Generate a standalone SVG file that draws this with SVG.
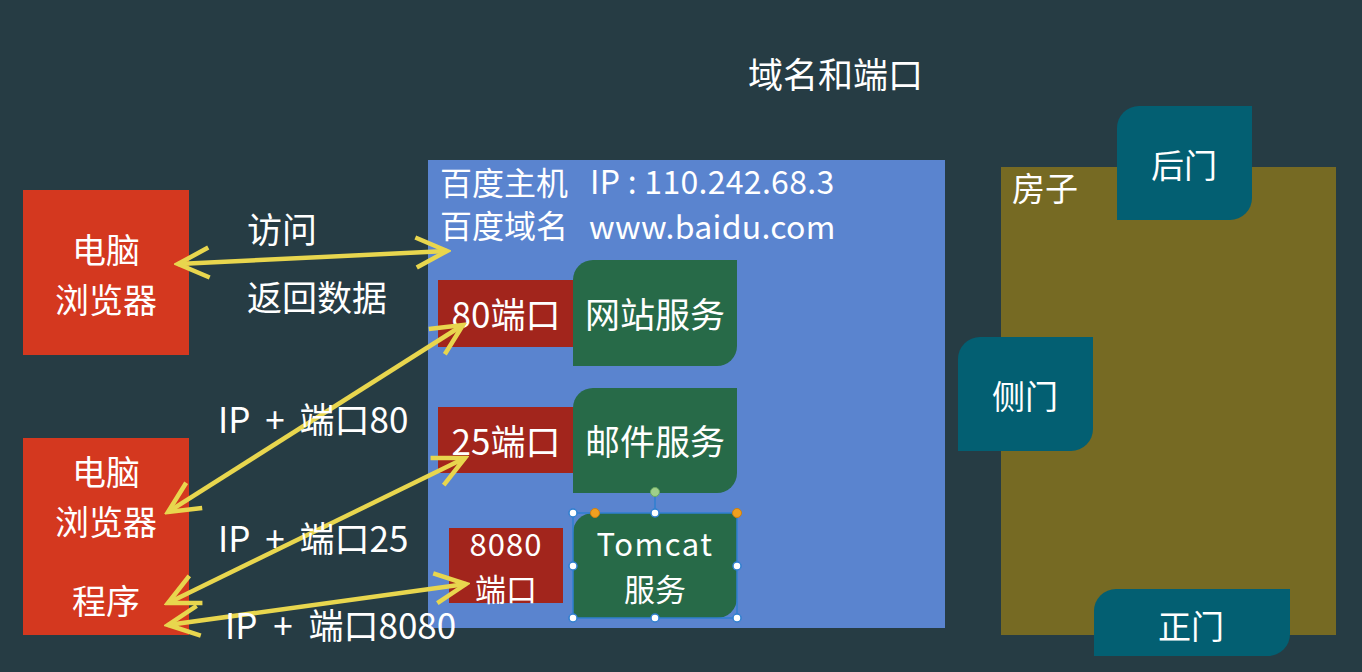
<svg xmlns="http://www.w3.org/2000/svg" width="1362" height="672" viewBox="0 0 1362 672">
  <defs>
    <style>
      text { font-family: "Noto Sans CJK SC", "Noto Sans", sans-serif; fill: #ffffff; font-size: 35px; }
      .c { text-anchor: middle; }
      .lat { font-size: 32px; letter-spacing: 0.3px; }
      .hdr { font-size: 32px; }
      .door-t { font-size: 33px; }
      .stack { font-size: 34px; }
      .small { font-size: 31px; }
      .left-red { fill: #d4381f; }
      .port { fill: #a2251c; }
      .svc { fill: #276a48; }
      .door { fill: #035f72; }
      .arrow { stroke: #e8d64e; stroke-width: 4.5; fill: none; marker-start: url(#head); marker-end: url(#head); }
      .handle { fill: #ffffff; stroke: #2f7fd0; stroke-width: 1.5; }
    </style>
    <marker id="head" viewBox="-34 -18 38 36" refX="0" refY="0" markerWidth="38" markerHeight="36" markerUnits="userSpaceOnUse" orient="auto-start-reverse">
      <path d="M-31,-15 L0,0 L-31,15" fill="none" stroke="#e8d64e" stroke-width="4.5" stroke-linecap="butt" stroke-linejoin="miter"/>
    </marker>
  </defs>

  <rect width="1362" height="672" fill="#263c44"/>

  <g id="title">
    <text x="748" y="88">域名和端口</text>
  </g>

  <g id="baidu-host">
    <rect x="428" y="160" width="517" height="468" fill="#5a84cf"/>
    <text class="hdr" x="440" y="195">百度主机<tspan x="440" y="238">百度域名</tspan></text>
    <text class="lat" x="590" y="194">IP : 110.242.68.3</text>
    <text class="lat" x="589" y="239">www.baidu.com</text>
  </g>

  <g id="port-80">
    <rect class="port" x="438" y="280" width="135" height="67"/>
    <text class="c" x="506" y="328">80端口</text>
  </g>
  <g id="web-service">
    <path class="svc" d="M593,260 H737 V346 A20,20 0 0 1 717,366 H573 V280 A20,20 0 0 1 593,260 Z"/>
    <text class="c" x="655" y="328">网站服务</text>
  </g>

  <g id="port-25">
    <rect class="port" x="438" y="407" width="135" height="66"/>
    <text class="c" x="506" y="455">25端口</text>
  </g>
  <g id="mail-service">
    <path class="svc" d="M593,388 H737 V473 A20,20 0 0 1 717,493 H573 V408 A20,20 0 0 1 593,388 Z"/>
    <text class="c" x="655" y="455">邮件服务</text>
  </g>

  <g id="port-8080">
    <rect class="port" x="449" y="528" width="114" height="75"/>
    <text class="c small" x="506" y="556" style="letter-spacing:1px">8080</text>
    <text class="c small" x="506" y="601">端口</text>
  </g>
  <g id="tomcat-service">
    <path class="svc" d="M593,513 H737 V598 A20,20 0 0 1 717,618 H573 V533 A20,20 0 0 1 593,513 Z"/>
    <text class="c small" x="655" y="556" style="letter-spacing:1.5px">Tomcat</text>
    <text class="c small" x="655" y="601">服务</text>
    <rect x="573" y="513" width="164" height="105" fill="none" stroke="#2f7fd0" stroke-width="1.5"/>
    <line x1="655" y1="492" x2="655" y2="513" stroke="#2f7fd0" stroke-width="1.5"/>
    <circle cx="655" cy="492" r="4.5" fill="#9fd08a" stroke="#6aa860" stroke-width="1"/>
    <circle class="handle" cx="573" cy="513" r="4"/>
    <circle class="handle" cx="655" cy="513" r="4"/>
    <circle class="handle" cx="737" cy="513" r="4"/>
    <circle class="handle" cx="573" cy="566" r="4"/>
    <circle class="handle" cx="737" cy="566" r="4"/>
    <circle class="handle" cx="573" cy="618" r="4"/>
    <circle class="handle" cx="655" cy="618" r="4"/>
    <circle class="handle" cx="737" cy="618" r="4"/>
    <circle cx="595" cy="513" r="4.5" fill="#f0a020" stroke="#d08010" stroke-width="1"/>
    <circle cx="737" cy="513" r="4.5" fill="#f0a020" stroke="#d08010" stroke-width="1"/>
  </g>

  <g id="browser-1">
    <rect class="left-red" x="23" y="190" width="166" height="165"/>
    <text class="c stack" x="106" y="263">电脑</text>
    <text class="c stack" x="106" y="313">浏览器</text>
  </g>

  <g id="browser-2">
    <rect class="left-red" x="23" y="438" width="166" height="197"/>
    <text class="c stack" x="106" y="485">电脑</text>
    <text class="c stack" x="106" y="535">浏览器</text>
    <text class="c stack" x="106" y="614">程序</text>
  </g>

  <g id="house">
    <rect x="1001" y="167" width="335" height="468" fill="#766a23"/>
    <text class="door-t" x="1012" y="201">房子</text>
  </g>
  <g id="back-door">
    <path class="door" d="M1139,106 H1252 V198 A22,22 0 0 1 1230,220 H1117 V128 A22,22 0 0 1 1139,106 Z"/>
    <text class="c door-t" x="1184" y="178">后门</text>
  </g>
  <g id="side-door">
    <path class="door" d="M980,337 H1093 V429 A22,22 0 0 1 1071,451 H958 V359 A22,22 0 0 1 980,337 Z"/>
    <text class="c door-t" x="1025" y="409">侧门</text>
  </g>
  <g id="front-door">
    <path class="door" d="M1116,589 H1290 V634 A22,22 0 0 1 1268,656 H1094 V611 A22,22 0 0 1 1116,589 Z"/>
    <text class="c door-t" x="1191" y="639">正门</text>
  </g>

  <g id="connectors">
    <line class="arrow" x1="178" y1="264" x2="447" y2="251"/>
    <line class="arrow" x1="168" y1="512" x2="463" y2="325"/>
    <line class="arrow" x1="168" y1="603" x2="465" y2="458"/>
    <line class="arrow" x1="168" y1="625" x2="466" y2="584"/>
  </g>

  <g id="labels">
    <text x="247" y="243">访问</text>
    <text x="247" y="311">返回数据</text>
    <text x="218" y="433" style="word-spacing:7px">IP + 端口80</text>
    <text x="218" y="552" style="word-spacing:7px">IP + 端口25</text>
    <text x="225" y="639" style="word-spacing:8px">IP + 端口8080</text>
  </g>
</svg>
